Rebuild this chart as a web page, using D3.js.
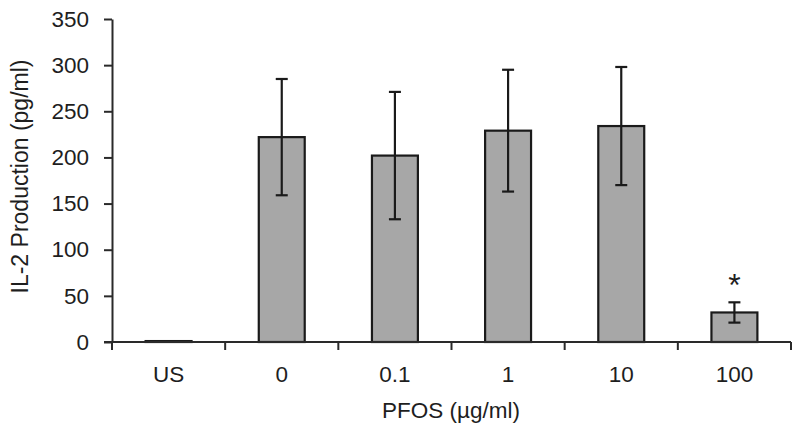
<!DOCTYPE html>
<html>
<head>
<meta charset="utf-8">
<script src="https://cdn.jsdelivr.net/npm/d3@7"></script>
<style>
  html, body { margin: 0; padding: 0; background: #fff; }
  svg { display: block; }
  text { font-family: "Liberation Sans", Arial, sans-serif; fill: #1e1e1e; }
</style>
</head>
<body>
<svg id="chart" width="800" height="435"></svg>
<script>
// Data
const categories = ["US", "0", "0.1", "1", "10", "100"];
const means = [1, 222, 202, 229, 234, 32];
const sds = [0, 63, 69, 66, 64, 11];
const significance = ["", "", "", "", "", "*"];
const yTicks = [0, 50, 100, 150, 200, 250, 300, 350];
const xTitle = "PFOS (µg/ml)";
const yTitle = "IL-2 Production (pg/ml)";

const svg = d3.select("#chart");
const mLeft = 112, mRight = 791, mTop = 19, mBottom = 342;
const fs = 22.5;

const x = d3.scaleBand().domain(categories).range([mLeft, mRight])
  .paddingInner(0.594).paddingOuter(0.297);
const y = d3.scaleLinear().domain([0, 350]).range([mBottom, mTop]);

const axisColor = "#2a2a2a";

// Y axis
const yAxis = svg.append("g").attr("transform", `translate(${mLeft},0)`)
  .call(d3.axisLeft(y).tickValues(yTicks).tickSize(8).tickPadding(15).tickSizeOuter(0));
yAxis.select(".domain").attr("stroke", axisColor).attr("stroke-width", 2);
yAxis.selectAll(".tick line").attr("stroke", axisColor).attr("stroke-width", 2);
yAxis.selectAll(".tick text").attr("font-size", fs).attr("fill", "#1e1e1e")
  .style("font-family", "'Liberation Sans', Arial, sans-serif");

// Bars
const bw = x.bandwidth();
svg.append("g").selectAll("rect").data(categories).join("rect")
  .attr("x", d => x(d))
  .attr("y", (d, i) => y(means[i]))
  .attr("width", bw)
  .attr("height", (d, i) => y(0) - y(means[i]))
  .attr("fill", "#a7a7a7")
  .attr("stroke", "#1a1a1a")
  .attr("stroke-width", 2.2);

// Error bars
const eg = svg.append("g").attr("stroke", "#1a1a1a").attr("stroke-width", 2.2);
categories.forEach((c, i) => {
  if (!sds[i]) return;
  const cx = x(c) + bw / 2;
  const hi = y(means[i] + sds[i]), lo = y(means[i] - sds[i]);
  eg.append("line").attr("x1", cx).attr("x2", cx).attr("y1", hi).attr("y2", lo);
  eg.append("line").attr("x1", cx - 6).attr("x2", cx + 6).attr("y1", hi).attr("y2", hi);
  eg.append("line").attr("x1", cx - 6).attr("x2", cx + 6).attr("y1", lo).attr("y2", lo);
});

// Significance markers
svg.append("g").selectAll("text").data(categories).join("text")
  .attr("x", d => x(d) + bw / 2)
  .attr("y", (d, i) => y(means[i] + sds[i]) - 6)
  .attr("text-anchor", "middle")
  .attr("font-size", 32)
  .text((d, i) => significance[i]);

// X axis line and boundary ticks
const step = x.step();
const boundaries = d3.range(categories.length + 1).map(i => mLeft + i * step);
const xg = svg.append("g");
xg.append("line").attr("x1", mLeft - 8).attr("x2", mRight).attr("y1", mBottom).attr("y2", mBottom)
  .attr("stroke", axisColor).attr("stroke-width", 2);
xg.selectAll("line.tk").data(boundaries).join("line").attr("class", "tk")
  .attr("x1", d => d).attr("x2", d => d).attr("y1", mBottom).attr("y2", mBottom + 8)
  .attr("stroke", axisColor).attr("stroke-width", 2);
xg.selectAll("text").data(categories).join("text")
  .attr("x", d => x(d) + bw / 2)
  .attr("y", 381.5)
  .attr("text-anchor", "middle")
  .attr("font-size", fs)
  .text(d => d);

// Titles
svg.append("text").attr("x", 451).attr("y", 418)
  .attr("text-anchor", "middle").attr("font-size", fs).text(xTitle);
svg.append("text").attr("transform", `translate(28,176.5) rotate(-90)`)
  .attr("text-anchor", "middle").attr("font-size", 23).text(yTitle);
</script>
</body>
</html>
